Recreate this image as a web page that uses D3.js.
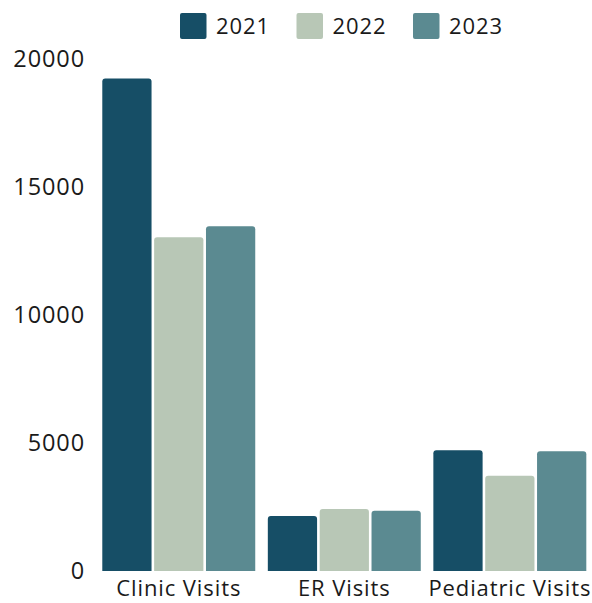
<!DOCTYPE html>
<html>
<head>
<meta charset="utf-8">
<script src="https://cdn.jsdelivr.net/npm/d3@7"></script>
<style>
  body { margin: 0; background: #fff; }
  svg text { font-family: "Open Sans", "Noto Sans", sans-serif; fill: #1a1a1a; letter-spacing: 0.9px; }
</style>
</head>
<body>
<svg id="chart" width="592" height="603"></svg>
<script>
// Chart data
const categories = ["Clinic Visits", "ER Visits", "Pediatric Visits"];
const years = ["2021", "2022", "2023"];
const values2021 = [19220, 2150, 4710];
const values2022 = [13020, 2420, 3720];
const values2023 = [13450, 2350, 4670];
const yTicks = [0, 5000, 10000, 15000, 20000];
const colors = ["#164e66", "#b8c7b6", "#5b8a91"];

const series = [values2021, values2022, values2023];

const svg = d3.select("#chart");

// Scales
const x0 = d3.scaleBand()
  .domain(categories)
  .range([96, 592.6])
  .paddingInner(0.076)
  .paddingOuter(0.038);

const x1 = d3.scaleBand()
  .domain(years)
  .range([0, x0.bandwidth()])
  .paddingInner(0.05);

const y = d3.scaleLinear()
  .domain([0, 20000])
  .range([571, 58.5]);

// Path with rounded top corners only
function roundedTop(x, yTop, w, h, r) {
  r = Math.min(r, h, w / 2);
  return `M${x},${yTop + h}` +
    `V${yTop + r}` +
    `Q${x},${yTop} ${x + r},${yTop}` +
    `H${x + w - r}` +
    `Q${x + w},${yTop} ${x + w},${yTop + r}` +
    `V${yTop + h}Z`;
}

// Y axis (labels only)
svg.append("g")
  .attr("transform", "translate(85,0)")
  .call(d3.axisLeft(y).tickValues(yTicks).tickSize(0).tickPadding(0).tickFormat(d3.format("d")))
  .call(g => g.select(".domain").remove())
  .call(g => g.selectAll("text")
    .attr("font-size", 23.5)
    .attr("letter-spacing", "1.5px")
    .attr("fill", "#1a1a1a"));

// Bars
const groups = svg.append("g")
  .selectAll("g")
  .data(categories)
  .join("g")
  .attr("transform", d => `translate(${x0(d)},0)`);

groups.selectAll("path")
  .data((c, i) => years.map((yr, j) => ({ yr, v: series[j][i], color: colors[j] })))
  .join("path")
  .attr("fill", d => d.color)
  .attr("d", d => roundedTop(x1(d.yr), y(d.v), x1.bandwidth(), y(0) - y(d.v), 3));

// X axis (labels only)
svg.append("g")
  .attr("transform", `translate(0,${y(0)})`)
  .call(d3.axisBottom(x0).tickSize(0).tickPadding(9))
  .call(g => g.select(".domain").remove())
  .call(g => g.selectAll("text")
    .attr("font-size", 22)
    .attr("fill", "#1a1a1a"));

// Legend
const legend = svg.append("g")
  .selectAll("g")
  .data(years)
  .join("g")
  .attr("transform", (d, i) => `translate(${180 + i * 116.5},13)`);

legend.append("rect")
  .attr("width", 26.5)
  .attr("height", 26)
  .attr("rx", 2)
  .attr("fill", (d, i) => colors[i]);

legend.append("text")
  .attr("x", 36)
  .attr("y", 13)
  .attr("dy", "0.35em")
  .attr("font-size", 22)
  .text(d => d);
</script>
</body>
</html>
